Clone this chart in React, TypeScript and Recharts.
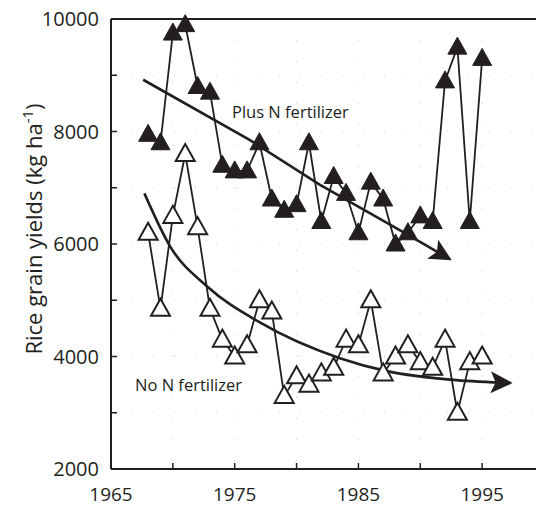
import React from 'react';
import {
  LineChart,
  Line,
  XAxis,
  YAxis,
  CartesianGrid,
  ReferenceLine,
  Customized,
  Label,
} from 'recharts';

// ---------------------------------------------------------------------------
// Data
// ---------------------------------------------------------------------------

const years = [
  1968, 1969, 1970, 1971, 1972, 1973, 1974, 1975, 1976, 1977, 1978, 1979, 1980, 1981,
  1982, 1983, 1984, 1985, 1986, 1987, 1988, 1989, 1990, 1991, 1992, 1993, 1994, 1995,
];

const plusN = [
  7950, 7800, 9750, 9900, 8800, 8700, 7400, 7300, 7300, 7800, 6800, 6600, 6700, 7800,
  6400, 7200, 6900, 6200, 7100, 6800, 6000, 6200, 6500, 6400, 8900, 9500, 6400, 9300,
];

const noN = [
  6200, 4850, 6500, 7600, 6300, 4850, 4300, 4000, 4200, 5000, 4800, 3300, 3650, 3500,
  3700, 3800, 4300, 4200, 5000, 3700, 4000, 4200, 3900, 3800, 4300, 3000, 3900, 4000,
];

// trend lines drawn by hand in the original
const plusTrendYears = [1967.6, 1976.2, 1981.9, 1988.3, 1992.4];
const plusTrendValues = [8920, 7850, 7050, 6250, 5730];

const noTrendYears = [1967.7, 1969.8, 1972.8, 1977, 1983.5, 1987.3, 1992.9, 1997.3];
const noTrendValues = [6900, 5950, 5240, 4610, 3970, 3740, 3580, 3530];

const xTicks = [1965, 1970, 1975, 1980, 1985, 1990, 1995];
const xLabelled = [1965, 1975, 1985, 1995];
const yTicks = [2000, 3000, 4000, 5000, 6000, 7000, 8000, 9000, 10000];
const yLabelled = [2000, 4000, 6000, 8000, 10000];

const rows = years.map((year, i) => ({ year, plus: plusN[i], no: noN[i] }));
const plusTrend = plusTrendYears.map((year, i) => ({ year, v: plusTrendValues[i] }));
const noTrend = noTrendYears.map((year, i) => ({ year, v: noTrendValues[i] }));

const INK = '#231f20';

// ---------------------------------------------------------------------------
// Marks
// ---------------------------------------------------------------------------

function Triangle(props: any, filled: boolean) {
  const { cx, cy, index } = props;
  if (cx == null || cy == null) return null;
  return (
    <polygon
      key={`${filled ? 'f' : 'o'}-${index}`}
      points={`${cx},${cy - 10} ${cx - 9.5},${cy + 7} ${cx + 9.5},${cy + 7}`}
      fill={filled ? INK : '#fff'}
      stroke={INK}
      strokeWidth={filled ? 1 : 2}
      strokeLinejoin="miter"
    />
  );
}

function XTick({ x, y, payload }: any) {
  const yr = payload.value;
  return (
    <g>
      <line x1={x} x2={x} y1={y} y2={y - 6} stroke={INK} strokeWidth={1.5} />
      {xLabelled.includes(yr) && (
        <text x={x} y={y + 32} textAnchor="middle" fontSize={19} fill={INK}>
          {yr}
        </text>
      )}
    </g>
  );
}

function YTick({ x, y, payload }: any) {
  const v = payload.value;
  return (
    <g>
      <line x1={x} x2={x + 6} y1={y} y2={y} stroke={INK} strokeWidth={1.5} />
      {yLabelled.includes(v) && (
        <text x={x - 12} y={y + 7} textAnchor="end" fontSize={20} fill={INK}>
          {v}
        </text>
      )}
    </g>
  );
}

function Annotations() {
  return (
    <g fill={INK} fontSize={16.5}>
      <text x={232} y={118}>Plus N fertilizer</text>
      <text x={135} y={391}>No N fertilizer</text>
    </g>
  );
}

// ---------------------------------------------------------------------------
// Chart
// ---------------------------------------------------------------------------

export default function App() {
  return (
    <div
      style={{
        position: 'relative',
        top: -8,
        left: -8,
        width: 544,
        height: 508,
        fontFamily: '"Open Sans", sans-serif',
      }}
    >
      <LineChart
        width={544}
        height={508}
        data={rows}
        margin={{ top: 19, right: 0, bottom: 0, left: 0 }}
      >
        <defs>
          <marker
            id="arrow"
            viewBox="0 0 22 22"
            refX={20}
            refY={11}
            markerWidth={22}
            markerHeight={22}
            markerUnits="userSpaceOnUse"
            orient="auto"
          >
            <path d="M0,0 L22,11 L0,22 L5,11 z" fill={INK} />
          </marker>
        </defs>
        <CartesianGrid stroke="#cfcfcf" strokeDasharray="1 20" />
        <XAxis
          dataKey="year"
          type="number"
          domain={[1965, 2000]}
          ticks={xTicks}
          interval={0}
          height={39}
          tickSize={0}
          tickMargin={0}
          tickLine={false}
          axisLine={{ stroke: INK, strokeWidth: 2 }}
          tick={<XTick />}
        />
        <YAxis
          type="number"
          domain={[2000, 10000]}
          ticks={yTicks}
          interval={0}
          width={111}
          tickSize={0}
          tickMargin={0}
          tickLine={false}
          axisLine={{ stroke: INK, strokeWidth: 2 }}
          tick={<YTick />}
        >
          <Label
            content={() => (
              <text
                transform="translate(42,229) rotate(-90)"
                textAnchor="middle"
                fontSize={22}
                fill={INK}
              >
                Rice grain yields (kg ha
                <tspan dy={-9} fontSize={15}>-1</tspan>
                <tspan dy={9}>)</tspan>
              </text>
            )}
          />
        </YAxis>
        <ReferenceLine y={10000} stroke={INK} strokeWidth={2} />
        <Line
          dataKey="plus"
          stroke={INK}
          strokeWidth={1.8}
          dot={(p: any) => Triangle(p, true)}
          activeDot={false}
          isAnimationActive={false}
        />
        <Line
          dataKey="no"
          stroke={INK}
          strokeWidth={1.8}
          dot={(p: any) => Triangle(p, false)}
          activeDot={false}
          isAnimationActive={false}
        />
        <Line
          data={plusTrend}
          dataKey="v"
          type="linear"
          stroke={INK}
          strokeWidth={2.6}
          dot={false}
          activeDot={false}
          markerEnd="url(#arrow)"
          isAnimationActive={false}
        />
        <Line
          data={noTrend}
          dataKey="v"
          type="monotone"
          stroke={INK}
          strokeWidth={2.6}
          dot={false}
          activeDot={false}
          markerEnd="url(#arrow)"
          isAnimationActive={false}
        />
        <Customized component={Annotations} />
      </LineChart>
    </div>
  );
}
